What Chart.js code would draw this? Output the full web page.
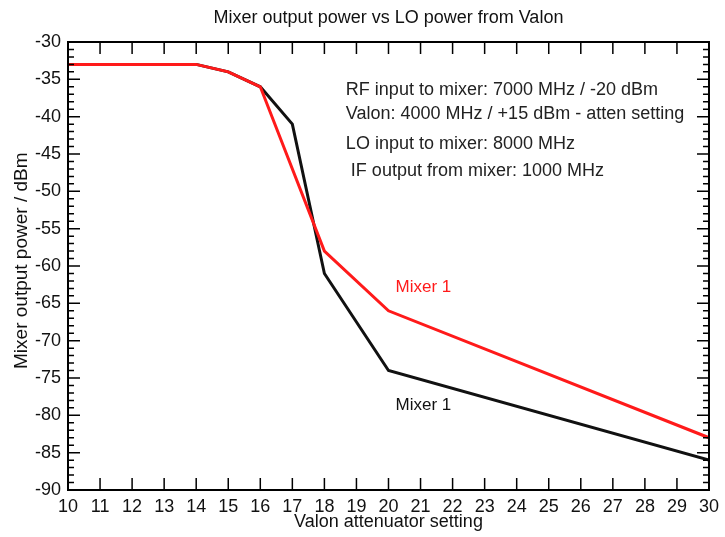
<!DOCTYPE html>
<html>
<head>
<meta charset="utf-8">
<script src="https://cdn.jsdelivr.net/npm/chart.js@4"></script>
<style>
    html, body { margin: 0; padding: 0; background: #fff; }
    #wrap { width: 725px; height: 537px; }
</style>
</head>
<body>
<div id="wrap"><canvas id="mixerChart" width="725" height="537"></canvas></div>
<script>
// Values
const redAtten = [10, 14, 15, 16, 18, 20, 30];
const redPower = [-33, -33, -34, -36, -58, -66, -83];
const blackAtten = [10, 14, 15, 16, 17, 18, 20, 30];
const blackPower = [-33, -33, -34, -36, -41, -61, -74, -86];

const xMin = 10, xMax = 30;
const yMin = -90, yMax = -30;

const notes = [
    'RF input to mixer: 7000 MHz / -20 dBm',
    'Valon: 4000 MHz / +15 dBm - atten setting',
    'LO input to mixer: 8000 MHz',
    ' IF output from mixer: 1000 MHz'
];

const FONT = '"Liberation Sans", Arial, Helvetica, sans-serif';

function toPoints(xs, ys) {
    return xs.map((x, i) => ({ x: x, y: ys[i] }));
}

// Box frame with inward ticks, like the old IDL style plot
const frameTicks = {
    id: 'frameTicks',
    afterDatasetsDraw(chart) {
        const { ctx, chartArea: a, scales } = chart;
        const xs = scales.x, ys = scales.y;
        ctx.save();
        ctx.strokeStyle = '#000';
        ctx.lineWidth = 2;
        ctx.strokeRect(a.left, a.top, a.right - a.left, a.bottom - a.top);

        ctx.lineWidth = 1.5;
        ctx.beginPath();
        for (let v = xMin + 1; v < xMax; v++) {
            const px = xs.getPixelForValue(v);
            ctx.moveTo(px, a.bottom); ctx.lineTo(px, a.bottom - 12);
            ctx.moveTo(px, a.top); ctx.lineTo(px, a.top + 12);
        }
        for (let v = yMin + 1; v < yMax; v++) {
            const py = ys.getPixelForValue(v);
            const len = (v % 5 === 0) ? 12 : 6;
            ctx.moveTo(a.left, py); ctx.lineTo(a.left + len, py);
            ctx.moveTo(a.right, py); ctx.lineTo(a.right - len, py);
        }
        ctx.stroke();

        // text notes
        ctx.font = '18px ' + FONT;
        ctx.textBaseline = 'middle';
        ctx.textAlign = 'left';
        ctx.fillStyle = '#222';
        const nx = xs.getPixelForValue(18.67);
        const noteY = [-36.4, -39.7, -43.6, -47.3];
        notes.forEach((t, i) => ctx.fillText(t, nx, ys.getPixelForValue(noteY[i])));

        ctx.font = '17px ' + FONT;
        ctx.fillStyle = '#ff1a1a';
        ctx.fillText('Mixer 1', xs.getPixelForValue(20.22), ys.getPixelForValue(-62.9));
        ctx.fillStyle = '#111';
        ctx.fillText('Mixer 1', xs.getPixelForValue(20.22), ys.getPixelForValue(-78.6));
        ctx.restore();
    }
};

new Chart(document.getElementById('mixerChart'), {
    type: 'line',
    data: {
        datasets: [
            {
                label: 'Mixer 1 (black)',
                data: toPoints(blackAtten, blackPower),
                borderColor: '#111',
                borderWidth: 3,
                pointRadius: 0,
                tension: 0,
                order: 2
            },
            {
                label: 'Mixer 1 (red)',
                data: toPoints(redAtten, redPower),
                borderColor: '#ff1a1a',
                borderWidth: 3,
                pointRadius: 0,
                tension: 0,
                order: 1
            }
        ]
    },
    options: {
        responsive: false,
        animation: false,
        layout: { padding: { left: 0, right: 13, top: 0, bottom: 0 } },
        plugins: {
            legend: { display: false },
            tooltip: { enabled: false },
            title: {
                display: true,
                fullSize: false,
                text: 'Mixer output power vs LO power from Valon',
                color: '#111',
                font: { family: FONT, size: 18, weight: 'normal' },
                padding: { top: 7, bottom: 13.4 }
            }
        },
        scales: {
            x: {
                type: 'linear',
                min: xMin,
                max: xMax,
                grid: { display: false, drawTicks: false },
                border: { display: false },
                ticks: {
                    stepSize: 1,
                    padding: 6,
                    maxRotation: 0,
                    autoSkip: false,
                    color: '#111',
                    font: { family: FONT, size: 18 }
                },
                title: {
                    display: true,
                    text: 'Valon attenuator setting',
                    color: '#111',
                    font: { family: FONT, size: 18 },
                    padding: { top: 0, bottom: 4 }
                },
                afterFit(scale) { scale.height = 47; }
            },
            y: {
                type: 'linear',
                min: yMin,
                max: yMax,
                grid: { display: false, drawTicks: false },
                border: { display: false },
                ticks: {
                    stepSize: 5,
                    padding: 7,
                    color: '#111',
                    font: { family: FONT, size: 18 }
                },
                title: {
                    display: true,
                    text: '  Mixer output power / dBm',
                    color: '#111',
                    font: { family: FONT, size: 19 },
                    padding: { top: 10, bottom: 0 }
                },
                afterFit(scale) { scale.width = 68; }
            }
        }
    },
    plugins: [frameTicks]
});
</script>
</body>
</html>
